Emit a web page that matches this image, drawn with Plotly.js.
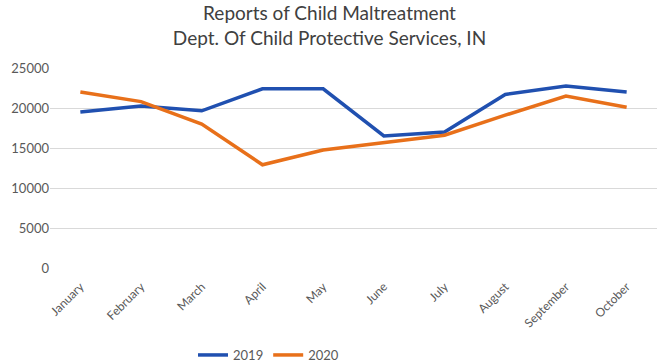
<!DOCTYPE html>
<html><head><meta charset="utf-8">
<script src="https://cdn.plot.ly/plotly-3.0.1.min.js"></script>
<style>html,body{margin:0;padding:0;background:#fff;}#chart{width:659px;height:363px;}</style>
</head><body><div id="chart"></div>
<script>
const months = ["January","February","March","April","May","June","July","August","September","October"];
const reports2019 = [19500, 20250, 19650, 22400, 22400, 16500, 17000, 21700, 22750, 22000];
const reports2020 = [22000, 20800, 18000, 12900, 14750, 15700, 16600, 19100, 21500, 20100];
const yTicks = [0, 5000, 10000, 15000, 20000, 25000];

const traces = [
  {x: months, y: reports2019, name: "2019", type: "scatter", mode: "lines",
   line: {color: "#2050B0", width: 3.5}},
  {x: months, y: reports2020, name: "2020", type: "scatter", mode: "lines",
   line: {color: "#E8701A", width: 3.5}}
];
const layout = {
  width: 659, height: 363,
  margin: {l: 50, r: 2, t: 68, b: 95, autoexpand: false},
  paper_bgcolor: "#fff", plot_bgcolor: "#fff",
  font: {family: "Lato, Open Sans, sans-serif", color: "#595959", size: 12},
  title: {text: "Reports of Child Maltreatment<br>Dept. Of Child Protective Services, IN",
          x: 0.5, xanchor: "center", y: 0.945, yanchor: "middle",
          font: {size: 19, color: "#404040"}},
  xaxis: {type: "category", range: [-0.5, 9.5], tickangle: -45, showgrid: false, zeroline: false,
          showline: false, ticks: "outside", ticklen: 6, tickcolor: "rgba(0,0,0,0)",
          automargin: false, tickfont: {size: 12, color: "#595959"}},
  yaxis: {range: [0, 25000], tickvals: yTicks, ticktext: yTicks.map(String),
          showgrid: true, gridcolor: "#d9d9d9", gridwidth: 1, zeroline: false,
          automargin: false, showline: false, ticks: "", tickfont: {size: 13, color: "#595959"}},
  showlegend: true,
  legend: {orientation: "h", x: 0.36, xanchor: "center", y: -0.435, yanchor: "middle",
           font: {size: 13, color: "#595959"}, itemwidth: 30}
};
Plotly.newPlot("chart", traces, layout, {displayModeBar: false, staticPlot: true});
</script></body></html>
